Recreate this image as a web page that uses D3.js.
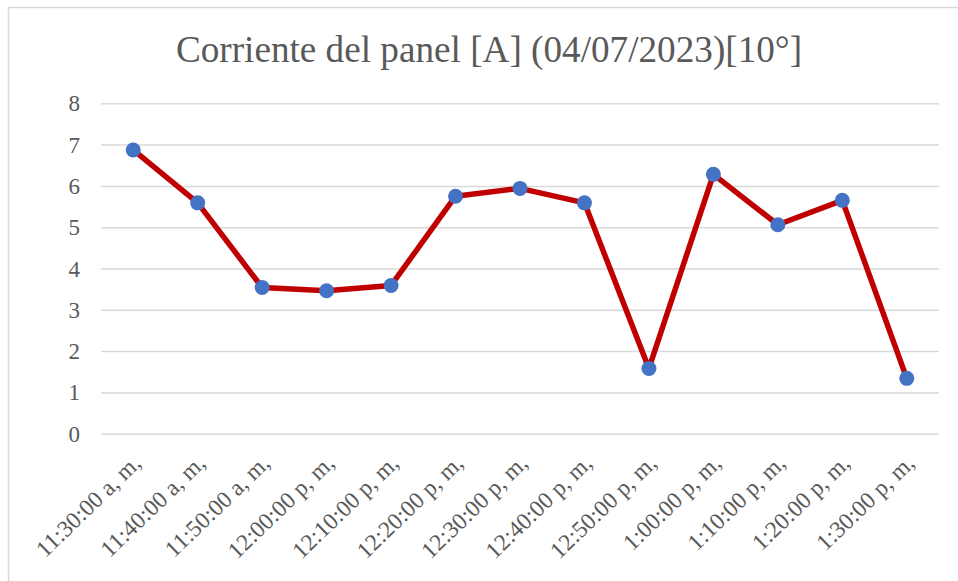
<!DOCTYPE html>
<html><head><meta charset="utf-8">
<script src="https://cdn.jsdelivr.net/npm/d3@7"></script>
<style>html,body{margin:0;padding:0;background:#fff;}svg{display:block;} text{font-family:"Liberation Serif", serif;}</style>
</head><body>
<script>
const titleText = "Corriente del panel [A] (04/07/2023)[10°]";
const categories = ["11:30:00 a, m,","11:40:00 a, m,","11:50:00 a, m,","12:00:00 p, m,","12:10:00 p, m,","12:20:00 p, m,","12:30:00 p, m,","12:40:00 p, m,","12:50:00 p, m,","1:00:00 p, m,","1:10:00 p, m,","1:20:00 p, m,","1:30:00 p, m,"];
const values = [6.87,5.59,3.54,3.46,3.59,5.75,5.94,5.59,1.58,6.28,5.06,5.65,1.34];
const yTicks = [0,1,2,3,4,5,6,7,8];

(function(){
const W = 958, H = 581;
const svg = d3.select("body").append("svg").attr("width", W).attr("height", H);
const textColor = "#595959";

// outer chart border
svg.append("path").attr("d", "M8.5,600 V7.5 H970").attr("fill","none").attr("stroke","#d9d9d9").attr("stroke-width",1.5);

const pl = 101, pr = 939, pt = 103.3, pb = 433.7;
const x = d3.scaleBand().domain(categories).range([pl, pr]);
const y = d3.scaleLinear().domain([0, 8]).range([pb, pt]);

svg.append("text").attr("x", 489).attr("y", 62).attr("text-anchor","middle")
  .attr("font-size", 37.2).attr("fill", textColor).text(titleText);

// gridlines
const yAxis = d3.axisLeft(y).tickValues(yTicks).tickSize(-(pr-pl)).tickPadding(20).tickFormat(d3.format("d"));
const gy = svg.append("g").attr("transform", `translate(${pl},0)`).call(yAxis);
gy.attr("font-family", null);
gy.select(".domain").remove();
gy.selectAll(".tick line").attr("stroke","#d9d9d9").attr("stroke-width",1.5);
gy.selectAll(".tick text").attr("font-size", 23).attr("fill", textColor).attr("text-anchor","end").attr("x", -21).attr("dy","0.33em");

// x axis labels
const xAxis = d3.axisBottom(x).tickSize(0).tickPadding(0);
const gx = svg.append("g").attr("transform", `translate(0,${pb})`).call(xAxis);
gx.attr("font-family", null);
gx.select(".domain").remove();
gx.selectAll(".tick text").attr("font-size", 23.5).attr("fill", textColor)
  .attr("text-anchor","end").attr("dy", null).attr("y", 0)
  .attr("transform", "translate(9,31) rotate(-44)");

const cx = d => x(d) + x.bandwidth()/2;
const data = categories.map((c,i)=>({c, v: values[i]}));
svg.append("path").datum(data).attr("fill","none").attr("stroke","#C00000").attr("stroke-width",5.5).attr("stroke-linejoin","round")
  .attr("d", d3.line().x(d=>cx(d.c)).y(d=>y(d.v)));
svg.selectAll("circle.m").data(data).join("circle").attr("class","m")
  .attr("cx", d=>cx(d.c)).attr("cy", d=>y(d.v)).attr("r", 7.5).attr("fill","#4472C4");
})();
</script>
</body></html>
